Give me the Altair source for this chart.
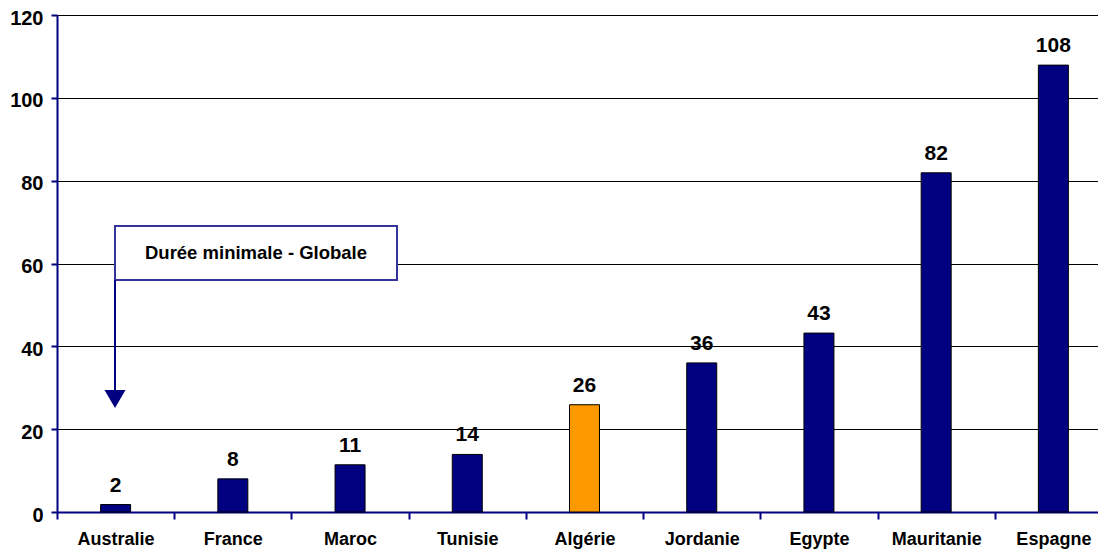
import altair as alt
import pandas as pd

countries = ["Australie", "France", "Maroc", "Tunisie", "Algérie", "Jordanie", "Egypte", "Mauritanie", "Espagne"]
values = [1.8, 8.0, 11.4, 13.9, 25.9, 36.0, 43.2, 81.9, 107.9]
labels = ["2", "8", "11", "14", "26", "36", "43", "82", "108"]
highlight = [False, False, False, False, True, False, False, False, False]

df = pd.DataFrame({"pays": countries, "valeur": values, "label": labels, "hl": highlight})

FONT = "Liberation Sans"
NAVY = "#000080"

x = alt.X("pays:N", sort=countries, title=None,
          scale=alt.Scale(paddingInner=0, paddingOuter=0, range=[0, 1055]),
          axis=alt.Axis(labelAngle=0, labelFont=FONT, labelFontSize=18, labelFontWeight="bold",
                        labelColor="#000000", labelPadding=11, domainColor=NAVY, domainWidth=2,
                        tickColor=NAVY, tickWidth=2, tickSize=7, tickBand="extent", grid=False))
y = alt.Y("valeur:Q", title=None,
          scale=alt.Scale(domain=[0, 120], nice=False),
          axis=alt.Axis(values=[0, 20, 40, 60, 80, 100, 120], labelFont=FONT, labelFontSize=20,
                        labelFontWeight="bold", labelColor="#000000", labelPadding=8, labelOffset=3,
                        domainColor=NAVY, domainWidth=2, tickColor=NAVY, tickWidth=2, tickSize=6,
                        grid=True, gridColor="#000000", gridWidth=1))

base = alt.Chart(df)

bars = base.mark_bar(size=30, stroke="#000000", strokeWidth=1).encode(
    x=x, y=y,
    color=alt.Color("hl:N", scale=alt.Scale(domain=[False, True], range=[NAVY, "#FF9900"]), legend=None),
)

texts = base.mark_text(font=FONT, fontSize=21, fontWeight="bold", baseline="alphabetic", dy=-13,
                       color="#000000").encode(x=x, y=y, text="label:N")

box = alt.Chart(pd.DataFrame({"a": [0]})).mark_rect(fill="#FFFFFF", stroke="#333399", strokeWidth=2).encode(
    x=alt.value(58), x2=alt.value(340), y=alt.value(211), y2=alt.value(265))

box_text = alt.Chart(pd.DataFrame({"t": ["Durée minimale - Globale"]})).mark_text(
    font=FONT, fontSize=18.5, fontWeight="bold", color="#000000", baseline="middle", align="center"
).encode(x=alt.value(199), y=alt.value(238), text="t:N")

arrow_line = alt.Chart(pd.DataFrame({"a": [0]})).mark_rule(color=NAVY, strokeWidth=2).encode(
    x=alt.value(58), y=alt.value(265), y2=alt.value(377))

arrow_head = alt.Chart(pd.DataFrame({"a": [0]})).mark_point(
    shape="triangle-down", filled=True, color=NAVY, size=441, opacity=1
).encode(x=alt.value(58), y=alt.value(384))

chart = alt.layer(bars, texts, box, box_text, arrow_line, arrow_head).properties(
    width=1041, height=497,
    padding={"left": 49, "top": 7, "right": 0, "bottom": 40},
    autosize=alt.AutoSizeParams(type="none"),
).configure_view(fill="#FFFFCC", stroke=None).configure(background="#FFFFFF")

chart.save("out.html", embed_options={"renderer": "svg", "actions": False})
